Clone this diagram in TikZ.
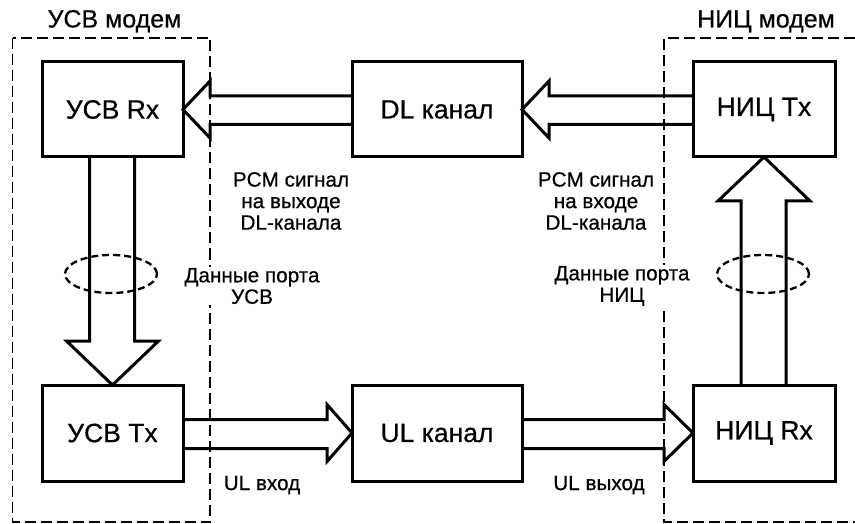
\documentclass[tikz,border=0pt]{standalone}
\usepackage{fontspec}
\setmainfont{Liberation Sans}[FakeBold=0.6]
\usetikzlibrary{calc}
\tikzset{
  blk/.style={draw, line width=3pt, outer sep=0pt, inner sep=0pt, font=\fontsize{26.5}{28}\selectfont},
  fat/.style={line width=3pt, line join=miter},
  grp/.style={line width=1.8pt, dash pattern=on 11pt off 5pt},
  ellip/.style={line width=2.3pt, dash pattern=on 7pt off 4pt},
  lbl/.style={align=center, inner sep=1pt, font=\fontsize{20.7}{21.5}\selectfont},
  ttl/.style={inner sep=0pt, anchor=base, font=\fontsize{25}{27}\selectfont}
}
\begin{document}
\begin{tikzpicture}[x=1pt, y=-1pt]
\useasboundingbox (0,0) rectangle (855,524);
% modem groups
\draw[grp] (12.5,38) rectangle (210,522);
\draw[grp] (855,38) -- (664,38) -- (664,522) -- (855,522);
\node[ttl] (tusv) at (114.5,27.5) {УСВ модем};
\node[ttl] (tnic) at (766,27.5) {НИЦ модем};
% blocks
\node[blk, minimum width=141pt, minimum height=95pt] (usvrx) at (112.5,109.5) {УСВ Rx};
\node[blk, minimum width=170pt, minimum height=95pt] (dl) at (437,109.5) {DL канал};
\node[blk, minimum width=142pt, minimum height=95pt] (nictx) at (764,109.5) {НИЦ Tx};
\node[blk, minimum width=141pt, minimum height=96pt] (usvtx) at (112.5,433) {УСВ Tx};
\node[blk, minimum width=170pt, minimum height=96pt] (ul) at (437,433) {UL канал};
\node[blk, minimum width=142pt, minimum height=96pt] (nicrx) at (764,433) {НИЦ Rx};
% fat arrows, top row (right to left)
\draw[fat] ($(nictx.west)+(0,-13.5)$) -- ($(dl.east)+(27,-13.5)$) -- ($(dl.east)+(27,-28.5)$)
  -- (dl.east) -- ($(dl.east)+(27,28.5)$) -- ($(dl.east)+(27,15)$) -- ($(nictx.west)+(0,15)$);
\draw[fat] ($(dl.west)+(0,-13.5)$) -- ($(usvrx.east)+(27,-13.5)$) -- ($(usvrx.east)+(27,-28.5)$)
  -- (usvrx.east) -- ($(usvrx.east)+(27,28.5)$) -- ($(usvrx.east)+(27,15)$) -- ($(dl.west)+(0,15)$);
% bottom row (left to right)
\draw[fat] ($(usvtx.east)+(0,-13.5)$) -- ($(ul.west)+(-25,-13.5)$) -- ($(ul.west)+(-25,-28.5)$)
  -- (ul.west) -- ($(ul.west)+(-25,28.5)$) -- ($(ul.west)+(-25,15.5)$) -- ($(usvtx.east)+(0,15.5)$);
\draw[fat] ($(ul.east)+(0,-13.5)$) -- ($(nicrx.west)+(-29,-13.5)$) -- ($(nicrx.west)+(-29,-28.5)$)
  -- (nicrx.west) -- ($(nicrx.west)+(-29,28.5)$) -- ($(nicrx.west)+(-29,15.5)$) -- ($(ul.east)+(0,15.5)$);
% vertical arrows
\draw[fat] ($(usvrx.south)+(-23,0)$) -- ($(usvtx.north)+(-23,-44)$) -- ($(usvtx.north)+(-46,-44)$)
  -- (usvtx.north) -- ($(usvtx.north)+(46,-44)$) -- ($(usvtx.north)+(22,-44)$) -- ($(usvrx.south)+(22,0)$);
\draw[fat] ($(nicrx.north)+(-23,0)$) -- ($(nictx.south)+(-23,44)$) -- ($(nictx.south)+(-46,44)$)
  -- (nictx.south) -- ($(nictx.south)+(46,44)$) -- ($(nictx.south)+(22,44)$) -- ($(nicrx.north)+(22,0)$);
% bundle ellipses
\draw[ellip] (111,274) ellipse [x radius=46pt, y radius=19pt];
\draw[ellip] (763,274) ellipse [x radius=46pt, y radius=19pt];
% labels
\node[lbl] (pcmout) at (291,201) {PCM сигнал\\на выходе\\DL-канала};
\node[lbl] (pcmin) at (596,201) {PCM сигнал\\на входе\\DL-канала};
\node[lbl, fill=white] (dusv) at (252,286) {Данные порта\\УСВ};
\node[lbl, fill=white] (dnic) at (622,286) {Данные порта\\НИЦ};
\node[lbl] (ulin) at (262,485) {UL вход};
\node[lbl] (ulout) at (599,485) {UL выход};
\end{tikzpicture}
\end{document}
